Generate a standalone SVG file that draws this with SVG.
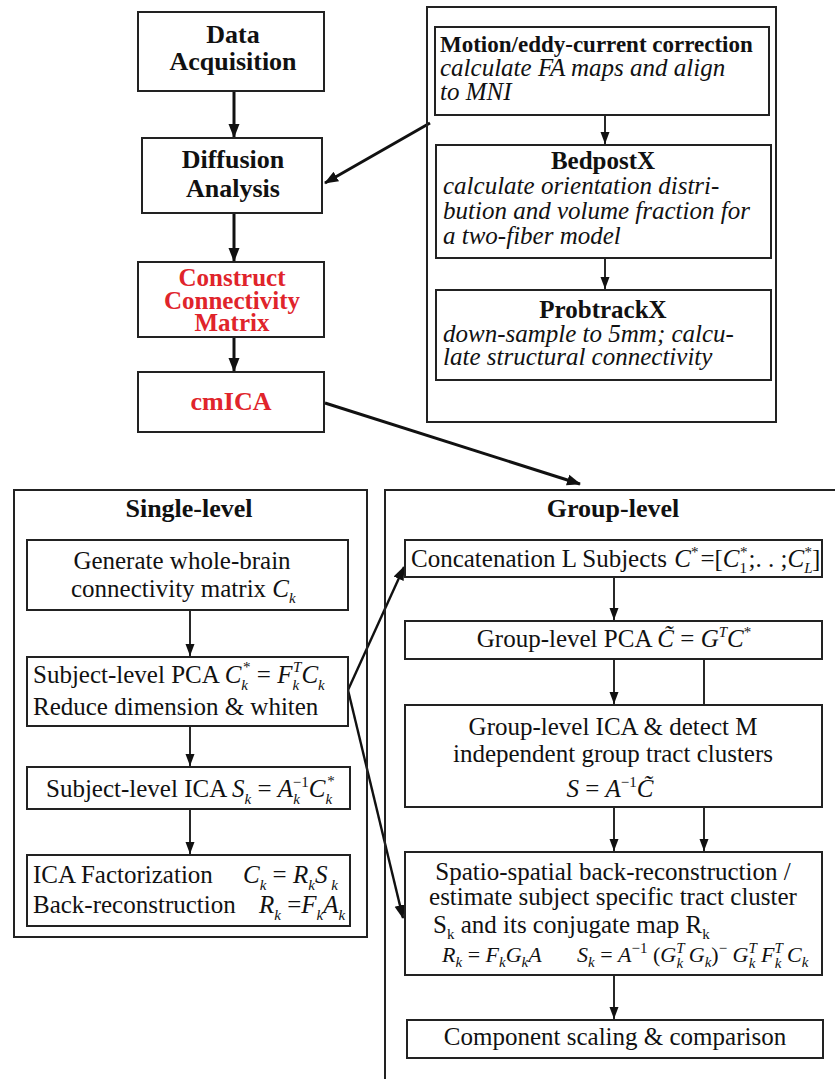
<svg xmlns="http://www.w3.org/2000/svg" width="835" height="1079" viewBox="0 0 835 1079">
<style>
text{font-family:"Liberation Serif","Times New Roman",serif;fill:#111}
.box{fill:#fff;stroke:#222;stroke-width:2}
.obox{fill:none;stroke:#222;stroke-width:2}
.big{font-size:26px;font-weight:bold;text-anchor:middle}
.red{fill:#e0242b}
.tb{font-size:23px;font-weight:bold}
.ti{font-size:25px;font-style:italic}
.t{font-size:25px}
.i{font-style:italic}
.s{font-size:15px}
.f{font-size:22px;font-style:italic}
.c{text-anchor:middle}
.cn{stroke:#111;fill:none}
.thick{stroke-width:3}
.med{stroke-width:2.4}
.thin{stroke-width:1.8}
</style>
<defs>
<marker id="ah" markerUnits="userSpaceOnUse" markerWidth="14" markerHeight="14" viewBox="0 0 14 14" refX="13" refY="7" orient="auto">
<path d="M0,1.5 L14,7 L0,12.5 Z" fill="#111"/>
</marker>
<marker id="ahs" markerUnits="userSpaceOnUse" markerWidth="12" markerHeight="12" viewBox="0 0 12 12" refX="12" refY="6" orient="auto">
<path d="M0,1.5 L12,6 L0,10.5 Z" fill="#111"/>
</marker>
</defs>

<g id="connectors">
<line class="cn thick" x1="234" y1="91" x2="234" y2="137" marker-end="url(#ah)"/>
<line class="cn thick" x1="234" y1="213" x2="234" y2="261" marker-end="url(#ah)"/>
<line class="cn thick" x1="234" y1="337" x2="234" y2="371" marker-end="url(#ah)"/>
<line class="cn thick" x1="430" y1="123" x2="325" y2="183" marker-end="url(#ah)"/>
<line class="cn thick" x1="325" y1="403" x2="580" y2="484" marker-end="url(#ah)"/>
<line class="cn thin" x1="605" y1="115" x2="605" y2="144" marker-end="url(#ahs)"/>
<line class="cn thin" x1="605" y1="258" x2="605" y2="289" marker-end="url(#ahs)"/>
<line class="cn thin" x1="190" y1="610" x2="190" y2="656" marker-end="url(#ahs)"/>
<line class="cn thin" x1="190" y1="726" x2="190" y2="766" marker-end="url(#ahs)"/>
<line class="cn thin" x1="190" y1="809" x2="190" y2="854" marker-end="url(#ahs)"/>
<line class="cn med" x1="348" y1="690" x2="404" y2="567" marker-end="url(#ah)"/>
<line class="cn med" x1="348" y1="690" x2="403" y2="918" marker-end="url(#ah)"/>
<line class="cn thin" x1="614" y1="577" x2="614" y2="620" marker-end="url(#ahs)"/>
<line class="cn thin" x1="614" y1="659" x2="614" y2="704" marker-end="url(#ahs)"/>
<line class="cn thin" x1="704" y1="659" x2="704" y2="705"/>
<line class="cn thin" x1="614" y1="807" x2="614" y2="851" marker-end="url(#ahs)"/>
<line class="cn thin" x1="704" y1="807" x2="704" y2="851" marker-end="url(#ahs)"/>
<line class="cn thin" x1="614" y1="975" x2="614" y2="1019" marker-end="url(#ahs)"/>
</g>

<g id="data-acquisition">
<rect class="box" x="138" y="12" width="186" height="79"/>
<text class="big" x="233" y="43">Data</text>
<text class="big" x="233" y="70">Acquisition</text>
</g>
<g id="diffusion-analysis">
<rect class="box" x="142" y="138" width="180" height="75"/>
<text class="big" x="233" y="168">Diffusion</text>
<text class="big" x="233" y="197">Analysis</text>
</g>
<g id="construct-matrix">
<rect class="box" x="138" y="262" width="186" height="75"/>
<text class="big red" x="232" y="286" style="font-size:25px">Construct</text>
<text class="big red" x="232" y="309" style="font-size:25px">Connectivity</text>
<text class="big red" x="232" y="331" style="font-size:25px">Matrix</text>
</g>
<g id="cmica">
<rect class="box" x="138" y="372" width="186" height="60"/>
<text class="big red" x="231" y="410">cmICA</text>
</g>

<g id="fsl-pipeline">
<rect class="obox" x="427" y="7" width="349" height="415"/>
</g>
<g id="motion">
<rect class="box" x="435" y="27" width="334" height="88"/>
<text class="tb" x="440" y="52">Motion/eddy-current correction</text>
<text class="ti" x="440" y="76">calculate FA maps and align</text>
<text class="ti" x="440" y="100">to MNI</text>
</g>
<g id="bedpostx">
<rect class="box" x="436" y="145" width="335" height="113"/>
<text class="tb c" x="603" y="169" style="font-size:25px">BedpostX</text>
<text class="ti" x="443" y="194">calculate orientation distri-</text>
<text class="ti" x="443" y="219">bution and volume fraction for</text>
<text class="ti" x="443" y="244">a two-fiber model</text>
</g>
<g id="probtrackx">
<rect class="box" x="436" y="290" width="335" height="90"/>
<text class="tb c" x="603" y="318" style="font-size:25px">ProbtrackX</text>
<text class="ti" x="443" y="342">down-sample to 5mm; calcu-</text>
<text class="ti" x="443" y="365">late structural connectivity</text>
</g>

<g id="single-level">
<rect class="obox" x="14" y="490" width="353" height="447"/>
<text class="big" x="189" y="517">Single-level</text>
</g>
<g id="generate">
<rect class="box" x="27" y="540" width="321" height="70"/>
<text class="t c" x="182" y="569">Generate whole-brain</text>
<text class="t" x="71" y="597">connectivity matrix <tspan class="i">C</tspan><tspan class="s i" dy="6">k</tspan></text>
</g>
<g id="subject-pca">
<rect class="box" x="27" y="657" width="321" height="69"/>
<text class="t" x="33" y="683">Subject-level PCA <tspan class="i">C</tspan><tspan class="s i" dy="7">k</tspan><tspan class="s" dx="-5" dy="-18">*</tspan><tspan dy="11"> = </tspan><tspan class="i">F</tspan><tspan class="s i" dy="7">k</tspan><tspan class="s i" dx="-6" dy="-18">T</tspan><tspan class="i" dy="11">C</tspan><tspan class="s i" dy="7">k</tspan></text>
<text class="t" x="33" y="715">Reduce dimension &amp; whiten</text>
</g>
<g id="subject-ica">
<rect class="box" x="27" y="767" width="323" height="42"/>
<text class="t" x="46" y="797">Subject-level ICA <tspan class="i">S</tspan><tspan class="s i" dy="7">k</tspan><tspan dy="-7"> = </tspan><tspan class="i">A</tspan><tspan class="s i" dy="7">k</tspan><tspan class="s" dx="-7" dy="-17">−1</tspan><tspan class="i" dy="10">C</tspan><tspan class="s i" dy="7">k</tspan><tspan class="s" dx="-5" dy="-18">*</tspan></text>
</g>
<g id="ica-factorization">
<rect class="box" x="27" y="855" width="323" height="71"/>
<text class="t" x="33" y="883">ICA Factorization</text>
<text class="t" x="243" y="883"><tspan class="i">C</tspan><tspan class="s i" dy="7">k</tspan><tspan dy="-7"> = </tspan><tspan class="i">R</tspan><tspan class="s i" dy="7">k</tspan><tspan class="i" dy="-7">S</tspan><tspan class="s i" dy="7"> k</tspan></text>
<text class="t" x="33" y="913">Back-reconstruction</text>
<text class="t" x="259" y="913"><tspan class="i">R</tspan><tspan class="s i" dy="7">k</tspan><tspan dy="-7"> =</tspan><tspan class="i">F</tspan><tspan class="s i" dy="7">k</tspan><tspan class="i" dy="-7">A</tspan><tspan class="s i" dy="7">k</tspan></text>
</g>

<g id="group-level">
<rect class="obox" x="385" y="490" width="470" height="620"/>
<text class="big" x="613" y="517">Group-level</text>
</g>
<g id="concatenation">
<rect class="box" x="405" y="540" width="417" height="37"/>
<text class="t" x="411" y="567">Concatenation L Subjects <tspan class="i" dx="1">C</tspan><tspan class="s" dy="-10">*</tspan><tspan dy="10" dx="2">=[</tspan><tspan class="i">C</tspan><tspan class="s" dy="6">1</tspan><tspan class="s" dx="-7" dy="-16">*</tspan><tspan dy="10" dx="1">;. . ;</tspan><tspan class="i">C</tspan><tspan class="s i" dy="6">L</tspan><tspan class="s" dx="-8" dy="-16">*</tspan><tspan dy="10">]</tspan></text>
</g>
<g id="group-pca">
<rect class="box" x="405" y="621" width="417" height="38"/>
<text class="t c" x="614" y="647">Group-level PCA <tspan class="i">C̃</tspan> = <tspan class="i">G</tspan><tspan class="s i" dy="-10">T</tspan><tspan class="i" dy="10">C</tspan><tspan class="s" dy="-10">*</tspan></text>
</g>
<g id="group-ica">
<rect class="box" x="405" y="705" width="417" height="102"/>
<text class="t c" x="613" y="735">Group-level ICA &amp; detect M</text>
<text class="t c" x="613" y="762">independent group tract clusters</text>
<text class="t c" x="610" y="797"><tspan class="i">S</tspan> = <tspan class="i">A</tspan><tspan class="s" dy="-10">−1</tspan><tspan class="i" dy="10">C̃</tspan></text>
</g>
<g id="back-reconstruction">
<rect class="box" x="405" y="852" width="417" height="123"/>
<text class="t c" x="613" y="880">Spatio-spatial back-reconstruction /</text>
<text class="t c" x="613" y="905">estimate subject specific tract cluster</text>
<text class="t" x="433" y="933">S<tspan class="s" dy="6">k</tspan><tspan dy="-6"> and its conjugate map  R</tspan><tspan class="s" dy="6">k</tspan></text>
<text class="f" x="442" y="962">R<tspan class="s" dy="5">k</tspan><tspan dy="-5" font-style="normal"> = </tspan>F<tspan class="s" dy="5">k</tspan><tspan dy="-5">G</tspan><tspan class="s" dy="5">k</tspan><tspan dy="-5">A</tspan></text>
<text class="f" x="577" y="962">S<tspan class="s" dy="5">k</tspan><tspan dy="-5" font-style="normal"> = </tspan>A<tspan class="s" font-style="normal" dy="-9">−1</tspan><tspan font-style="normal" dy="9"> (</tspan>G<tspan class="s" dy="-9">T</tspan><tspan class="s" dx="-8" dy="15">k</tspan><tspan dy="-6"> G</tspan><tspan class="s" dy="5">k</tspan><tspan font-style="normal" dy="-5">)</tspan><tspan class="s" font-style="normal" dy="-9">−</tspan><tspan dy="9"> G</tspan><tspan class="s" dy="-9">T</tspan><tspan class="s" dx="-8" dy="15">k</tspan><tspan dy="-6"> F</tspan><tspan class="s" dy="-9">T</tspan><tspan class="s" dx="-8" dy="15">k</tspan><tspan dy="-6"> C</tspan><tspan class="s" dy="5">k</tspan></text>
</g>
<g id="component-scaling">
<rect class="box" x="407" y="1020" width="416" height="38"/>
<text class="t c" x="615" y="1045">Component scaling &amp; comparison</text>
</g>
</svg>
